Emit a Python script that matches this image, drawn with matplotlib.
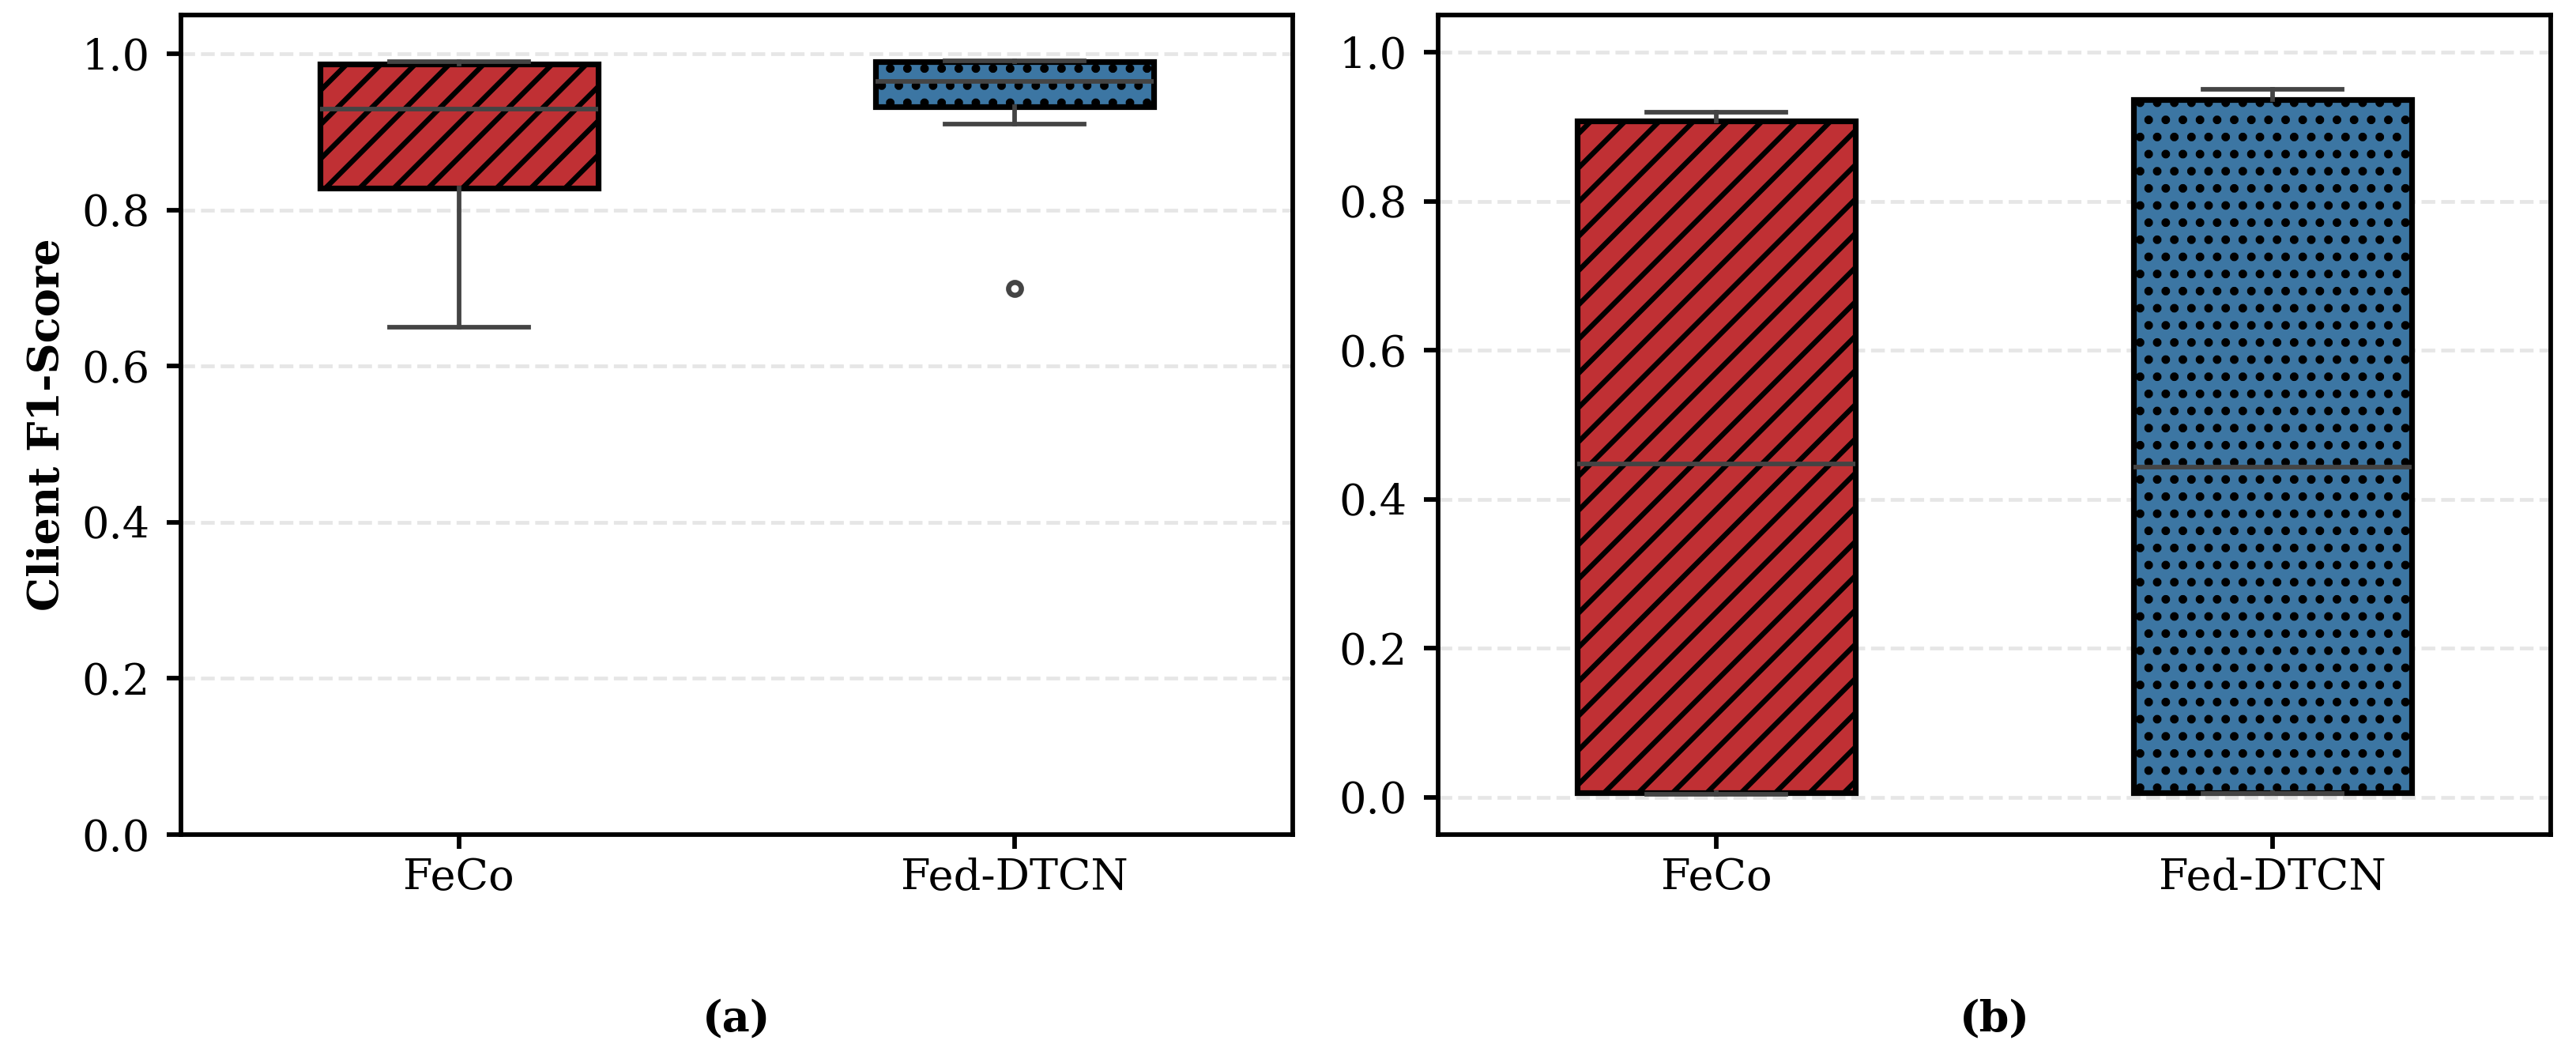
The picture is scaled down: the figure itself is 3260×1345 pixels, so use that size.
import matplotlib
matplotlib.use('Agg')
import matplotlib.pyplot as plt

# ---------------- data ----------------
categories = ['FeCo', 'Fed-DTCN']

# panel (a): client F1-score distribution
a_whislo = [0.650, 0.910]
a_q1 = [0.828, 0.933]
a_med = [0.930, 0.965]
a_q3 = [0.987, 0.990]
a_whishi = [0.990, 0.991]
a_fliers = [[], [0.700]]

# panel (b)
b_whislo = [0.004, 0.005]
b_q1 = [0.006, 0.006]
b_med = [0.447, 0.443]
b_q3 = [0.908, 0.937]
b_whishi = [0.920, 0.950]
b_fliers = [[], []]

yticks = [0.0, 0.2, 0.4, 0.6, 0.8, 1.0]
panel_labels = ['(a)', '(b)']
ylabel = 'Client F1-Score'
box_colors = ['#C03034', '#3C76A3']
hatches = ['//', '..']

# ---------------- style ----------------
plt.rcParams['font.family'] = ['DejaVu Serif']
plt.rcParams['font.size'] = 15
plt.rcParams['axes.linewidth'] = 1.6
plt.rcParams['hatch.linewidth'] = 1.8

W, H, DPI = 3260, 1345, 260
fig = plt.figure(figsize=(W / DPI, H / DPI), dpi=DPI)

def frac_rect(x0, x1, y0, y1):
    return [x0 / W, 1 - y1 / H, (x1 - x0) / W, (y1 - y0) / H]

ax1 = fig.add_axes(frac_rect(229, 1636, 19, 1056))
ax2 = fig.add_axes(frac_rect(1820, 3228, 19, 1056))


def make_stats(whislo, q1, med, q3, whishi, fliers):
    stats = []
    for i, lab in enumerate(categories):
        stats.append(dict(label=lab, whislo=whislo[i], q1=q1[i], med=med[i],
                          q3=q3[i], whishi=whishi[i], fliers=fliers[i]))
    return stats


def draw_panel(ax, stats, ylim):
    gray = '#444444'
    res = ax.bxp(stats, positions=list(range(len(categories))), widths=0.5,
                 patch_artist=True, showfliers=True, manage_ticks=False,
                 boxprops=dict(linewidth=2.0, edgecolor='black'),
                 medianprops=dict(color=gray, linewidth=1.6, zorder=3),
                 whiskerprops=dict(color=gray, linewidth=1.6),
                 capprops=dict(color=gray, linewidth=1.6, zorder=3),
                 flierprops=dict(marker='o', markerfacecolor='none',
                                 markeredgecolor=gray, markersize=4.5,
                                 markeredgewidth=1.8))
    for patch, c, h in zip(res['boxes'], box_colors, hatches):
        patch.set_facecolor(c)
        patch.set_edgecolor('black')
        patch.set_hatch(h)
    ax.set_xlim(-0.5, len(categories) - 0.5)
    ax.set_ylim(*ylim)
    ax.set_xticks(range(len(categories)))
    ax.set_xticklabels(categories)
    ax.set_yticks(yticks)
    ax.set_yticklabels([f'{t:.1f}' for t in yticks])
    ax.yaxis.grid(True, linestyle='--', color='#e6e6e6', linewidth=1.3)
    ax.set_axisbelow(True)
    ax.tick_params(axis='both', width=1.6, length=5)
    ax.tick_params(axis='y', pad=6)
    ax.tick_params(axis='x', pad=3)


draw_panel(ax1, make_stats(a_whislo, a_q1, a_med, a_q3, a_whishi, a_fliers), (0, 1.05))
draw_panel(ax2, make_stats(b_whislo, b_q1, b_med, b_q3, b_whishi, b_fliers), (-0.05, 1.05))

ax1.set_ylabel(ylabel, fontweight='bold')
ax1.yaxis.set_label_coords(-0.1016, 0.5)

for ax, lab in zip([ax1, ax2], panel_labels):
    pos = ax.get_position()
    fig.text((pos.x0 + pos.x1) / 2, 1 - 1290 / H, lab, ha='center', va='center',
             fontweight='bold', fontsize=15)

fig.savefig('out.png', dpi=DPI)
